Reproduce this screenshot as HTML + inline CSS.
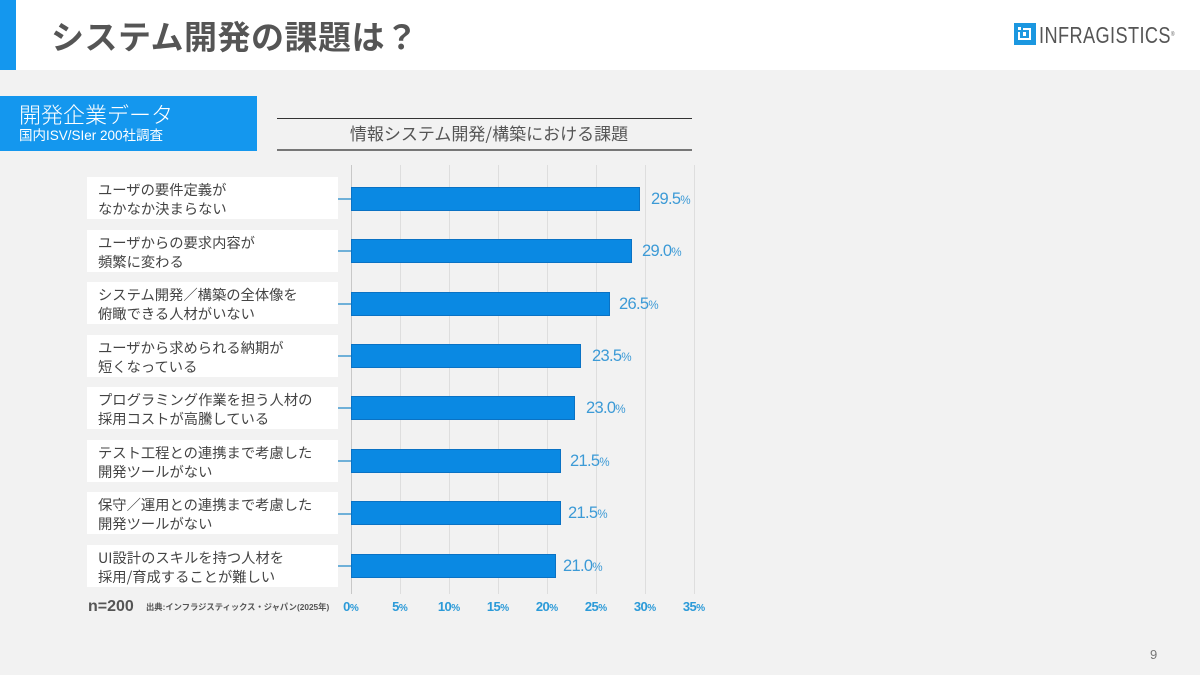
<!DOCTYPE html>
<html><head><meta charset="utf-8">
<style>
*{margin:0;padding:0;box-sizing:border-box}
body{width:1200px;height:675px;background:#f2f2f2;position:relative;overflow:hidden;font-family:"Liberation Sans","Noto Sans CJK JP",sans-serif;color:#444}
.abs{position:absolute}
.hdr{left:0;top:0;width:1200px;height:70px;background:#fff}
.hbar{left:0;top:0;width:16px;height:70px;background:#1497ee}
.title{left:51px;top:12px;font-size:33px;letter-spacing:0.5px;font-weight:700;color:#555;font-family:"Noto Sans CJK JP",sans-serif;line-height:46px;white-space:nowrap}
.bluebox{left:0;top:96px;width:257px;height:55px;background:#1497ee;color:#fff}
.bb1{left:19px;top:4px;font-size:22px;line-height:28px;font-family:"Noto Sans CJK JP",sans-serif;font-weight:300;white-space:nowrap}
.bb2{left:19px;top:31px;font-size:13.5px;line-height:18px;font-family:"Liberation Sans","Noto Sans CJK JP",sans-serif;white-space:nowrap}
.ctitle{left:277px;top:118px;width:415px;height:33px;border-top:1px solid #333;border-bottom:2px solid #777;text-align:center;font-size:17px;line-height:28px;color:#555;font-family:"Noto Sans CJK JP",sans-serif;padding-left:9px}
.grid{top:165px;width:1px;height:429px;background:#dedede}
.lbl{left:87px;width:251px;height:42px;background:#fff;font-size:14.3px;line-height:19px;padding:3px 0 0 11px;color:#444;font-family:"Noto Sans CJK JP",sans-serif;white-space:nowrap}
.conn{left:338px;width:13px;height:2px;background:#6fb0d8}
.bar{left:351px;height:24px;background:#0a89e3;border:1px solid #0a72c4}
.val{font-size:16.5px;color:#3c9ad6;line-height:24px;letter-spacing:-0.7px;white-space:nowrap}
.val small{font-size:11.5px;letter-spacing:0}
.ax small{font-size:10px;letter-spacing:0}
.ax{top:598px;font-size:13px;font-weight:700;color:#2b9ad8;width:40px;text-align:center;line-height:18px;white-space:nowrap;letter-spacing:-0.5px}
</style></head><body>
<div class="abs hdr"></div>
<div class="abs hbar"></div>
<div class="abs title">システム開発の課題は？</div>

<div class="abs" style="left:1014px;top:23px;width:22px;height:22px;background:#1b97e0"></div>
<svg class="abs" style="left:1014px;top:23px" width="22" height="22" viewBox="0 0 22 22">
<path d="M5 9 V16 H16 V6 H9" fill="none" stroke="#fff" stroke-width="2"/>
<rect x="4" y="4" width="3" height="3" fill="#fff"/>
<rect x="9" y="9" width="3" height="4" fill="#fff"/>
</svg>
<div class="abs" style="left:1039px;top:20px;font-size:23px;line-height:30px;color:#555;white-space:nowrap;transform:scaleX(0.79);transform-origin:0 0;letter-spacing:0.5px">INFRAGISTICS<span style="font-size:6px;vertical-align:top">®</span></div>

<div class="abs bluebox">
<div class="abs bb1">開発企業データ</div>
<div class="abs bb2">国内ISV/SIer 200社調査</div>
</div>

<div class="abs ctitle">情報システム開発/構築における課題</div>

<div class="abs grid" style="left:351px;background:#c8c8c8"></div>
<div class="abs grid" style="left:400px"></div>
<div class="abs grid" style="left:449px"></div>
<div class="abs grid" style="left:498px"></div>
<div class="abs grid" style="left:547px"></div>
<div class="abs grid" style="left:596px"></div>
<div class="abs grid" style="left:645px"></div>
<div class="abs grid" style="left:694px"></div>

<!-- rows -->
<div class="abs lbl" style="top:177px">ユーザの要件定義が<br>なかなか決まらない</div>
<div class="abs conn" style="top:198px"></div>
<div class="abs bar" style="top:187px;width:289px"></div>
<div class="abs val" style="left:651px;top:187px">29.5<small>%</small></div>

<div class="abs lbl" style="top:230px">ユーザからの要求内容が<br>頻繁に変わる</div>
<div class="abs conn" style="top:250px"></div>
<div class="abs bar" style="top:239px;width:281px"></div>
<div class="abs val" style="left:642px;top:239px">29.0<small>%</small></div>

<div class="abs lbl" style="top:282px">システム開発／構築の全体像を<br>俯瞰できる人材がいない</div>
<div class="abs conn" style="top:303px"></div>
<div class="abs bar" style="top:292px;width:259px"></div>
<div class="abs val" style="left:619px;top:292px">26.5<small>%</small></div>

<div class="abs lbl" style="top:335px">ユーザから求められる納期が<br>短くなっている</div>
<div class="abs conn" style="top:355px"></div>
<div class="abs bar" style="top:344px;width:230px"></div>
<div class="abs val" style="left:592px;top:344px">23.5<small>%</small></div>

<div class="abs lbl" style="top:387px">プログラミング作業を担う人材の<br>採用コストが高騰している</div>
<div class="abs conn" style="top:407px"></div>
<div class="abs bar" style="top:396px;width:224px"></div>
<div class="abs val" style="left:586px;top:396px">23.0<small>%</small></div>

<div class="abs lbl" style="top:440px">テスト工程との連携まで考慮した<br>開発ツールがない</div>
<div class="abs conn" style="top:460px"></div>
<div class="abs bar" style="top:449px;width:210px"></div>
<div class="abs val" style="left:570px;top:449px">21.5<small>%</small></div>

<div class="abs lbl" style="top:492px">保守／運用との連携まで考慮した<br>開発ツールがない</div>
<div class="abs conn" style="top:513px"></div>
<div class="abs bar" style="top:501px;width:210px"></div>
<div class="abs val" style="left:568px;top:501px">21.5<small>%</small></div>

<div class="abs lbl" style="top:545px">UI設計のスキルを持つ人材を<br>採用/育成することが難しい</div>
<div class="abs conn" style="top:565px"></div>
<div class="abs bar" style="top:554px;width:205px"></div>
<div class="abs val" style="left:563px;top:554px">21.0<small>%</small></div>

<!-- axis -->
<div class="abs" style="left:88px;top:597px;font-size:16px;font-weight:700;color:#555;line-height:20px">n=200</div>
<div class="abs" style="left:146px;top:601px;font-size:8.3px;font-weight:700;color:#555;line-height:12px;white-space:nowrap;font-family:'Liberation Sans','Noto Sans CJK JP',sans-serif">出典:インフラジスティックス・ジャパン(2025年)</div>
<div class="abs ax" style="left:331px">0<small>%</small></div>
<div class="abs ax" style="left:380px">5<small>%</small></div>
<div class="abs ax" style="left:429px">10<small>%</small></div>
<div class="abs ax" style="left:478px">15<small>%</small></div>
<div class="abs ax" style="left:527px">20<small>%</small></div>
<div class="abs ax" style="left:576px">25<small>%</small></div>
<div class="abs ax" style="left:625px">30<small>%</small></div>
<div class="abs ax" style="left:674px">35<small>%</small></div>

<div class="abs" style="left:1150px;top:647px;font-size:13px;color:#777;line-height:16px">9</div>
</body></html>
